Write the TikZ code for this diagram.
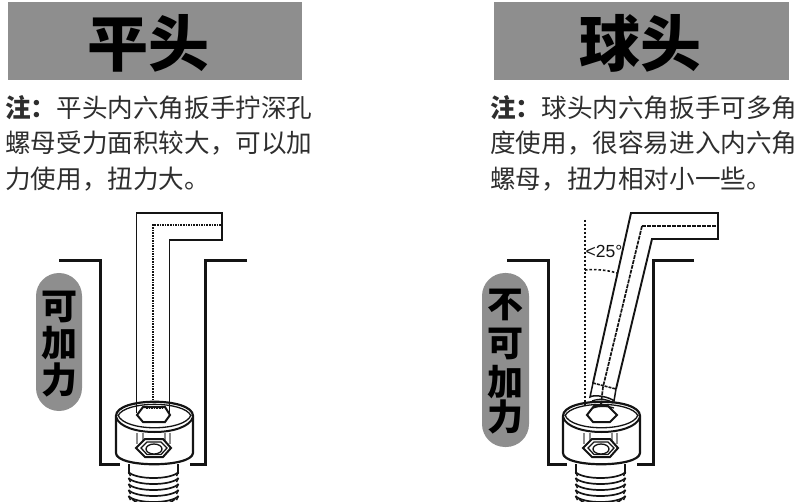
\documentclass[tikz,border=0pt]{standalone}
\usepackage{fontspec}
\newfontfamily\cjk{Noto Sans CJK SC}
\setmainfont{Liberation Sans}
\definecolor{ink}{HTML}{141414}
\definecolor{notecol}{HTML}{2E2E2E}
\definecolor{band}{HTML}{8E8E8E}
\tikzset{
  banner/.style={fill=band,draw=none},
  title/.style={font=\cjk\bfseries\fontsize{61}{61}\selectfont,text=black,inner sep=0pt},
  note/.style={font=\cjk\fontsize{25.6}{25.6}\selectfont,text=notecol,anchor=west,inner sep=0pt},
  pilltext/.style={font=\cjk\bfseries\fontsize{36}{36}\selectfont,text=black,inner sep=0pt},
  wall/.style={draw=ink,line width=3pt},
  wrench/.style={draw=ink,line width=1.9pt},
  centre/.style={draw=ink,line width=2pt,dash pattern=on 1.6pt off 1pt},
  thin/.style={draw=ink,line width=1.3pt},
  faint/.style={draw=black!45,line width=1.2pt},
  bolt/.pic={
    % threads
    \draw[thin,line width=1.8pt] (-25,48) -- (-25,58) (24,48) -- (24,58);
    \foreach \yy in {56,62,68,74,80}{
      \draw[thin,line width=1.7pt] (-25.5,\yy) .. controls (-18,\yy+8) and (17,\yy+8) .. (24.5,\yy);
      \draw[thin,line width=1.5pt] (-25.5,\yy) -- (-23.5,\yy+4) (24.5,\yy) -- (22.5,\yy+4);
    }
    \draw[thin,line width=1.7pt] (-22,83) .. controls (-14,92) and (13,92) .. (21,83);
    % head body
    \filldraw[fill=white,draw=ink,line width=2.2pt] (-38,0) -- (-38,37)
      .. controls (-38,52) and (38,52) .. (39,37) -- (39,0)
      .. controls (39,-19) and (-38,-19) .. (-38,0) -- cycle;
    \draw[ink,line width=2pt] (-38,1) .. controls (-32,21) and (33,21) .. (39,1);
    \draw[thin] (-36,0) .. controls (-30,-15.5) and (31,-15.5) .. (37,0);
    \draw[thin] (-36,-1) .. controls (-30,16) and (31,16) .. (37,-1);
    % bore
    \draw[faint] (-17,17) -- (-17,28) (16,17) -- (16,28) (-11,17) -- (-11,26) (11,17) -- (11,26);
    % lower hexagon
    \filldraw[fill=white,draw=ink,line width=2pt] (-18,32) -- (-9,23) -- (9,23) -- (17,32) -- (9,41) -- (-9,41) -- cycle;
    \draw[thin] (-13,32) -- (-7,26) -- (7,26) -- (13,32) -- (7,38.5) -- (-7,38.5) -- cycle;
    \filldraw[fill=white,draw=ink,line width=1.3pt] (0,33) ellipse [x radius=8,y radius=5];
  },
}
\begin{document}
\begin{tikzpicture}[x=1pt,y=-1pt]
\useasboundingbox (0,0) rectangle (800,502);
% banners
\path[banner] (8,2) rectangle (302,80);
\path[banner] (494,2) rectangle (789,80);
\node[title] (tl) at (148,43) {平头};
\node[title] (tr) at (640,43) {球头};
% notes
\node[note] (l1) at (5,108) {\textbf{注：}平头内六角扳手拧深孔};
\node[note] (l2) at (5,143) {螺母受力面积较大，可以加};
\node[note] (l3) at (5,179) {力使用，扭力大。};
\node[note] (r1) at (490,108) {\textbf{注：}球头内六角扳手可多角};
\node[note] (r2) at (490,143) {度使用，很容易进入内六角};
\node[note] (r3) at (490,179) {螺母，扭力相对小一些。};
% left pill
\path[banner,rounded corners=23pt] (36,273) rectangle (82,411);
\node[pilltext] (p1) at (59,307) {可};
\node[pilltext] (p2) at (59,343) {加};
\node[pilltext] (p3) at (59,380) {力};
% right pill
\path[banner,rounded corners=23pt] (482,273) rectangle (529,447);
\node[pilltext] (q1) at (505,305) {不};
\node[pilltext] (q2) at (505,344) {可};
\node[pilltext] (q3) at (505,382) {加};
\node[pilltext] (q4) at (505,417) {力};
% left housing
\path[wall] (59,261) -- (100,261) -- (100,464) -- (120,464);
\path[wall] (247,261) -- (205,261) -- (205,464) -- (190,464);
% right housing
\path[wall] (507,261) -- (548,261) -- (548,464) -- (567,464);
\path[wall] (694,261) -- (653,261) -- (653,464) -- (637,464);
% bolts
\pic at (154,416) {bolt};
\pic at (601,416) {bolt};
% left wrench
\path[wrench] (136.5,413) -- (136.5,213) -- (222,213) -- (222,240) -- (169.5,240) -- (169.5,413);
\path[centre] (153,403) -- (153,225) -- (221,225);
\filldraw[fill=white,draw=ink,line width=2pt] (137,415) -- (143,407) -- (165,407) -- (170,415) -- (165,422) -- (143,422) -- cycle;
\draw[centre,line width=1.1pt] (146,408.5) -- (162,408.5);
% right hex socket
\filldraw[fill=white,draw=ink,line width=2pt] (587,415) -- (594,406) -- (608,406) -- (617,415) -- (610,422) -- (593,422) -- cycle;
% right wrench
\path[wrench] (593,383) -- (631,213) -- (718,213) -- (718,239) -- (652,239) -- (616,389);
\path[thin,line width=1.6pt,dash pattern=on 3pt off 1pt] (593,383) -- (616,389);
\path[thin,line width=1.7pt,dash pattern=on 4pt off 1pt] (642,226) -- (718,226);
\path[thin,line width=1.7pt,dash pattern=on 4pt off 1pt] (642,226) -- (603,387) -- (601,404);
\path[thin,line width=1.5pt] (593,383) -- (590,397) .. controls (594,394) and (610,397) .. (614,401) -- (616,389);
\path[thin] (592,401) .. controls (600,398) and (608,399) .. (613,403) (593,408) .. controls (600,405) and (608,406) .. (614,408);
% angle
\path[centre,line width=2.1pt,dash pattern=on 2pt off 2pt] (585,220) -- (585,406);
\path[centre,line width=1.6pt,dash pattern=on 2.5pt off 2pt] (585,270) .. controls (596,269) and (607,270) .. (617,273);
\node[font=\fontsize{17.5}{17.5}\selectfont,text=ink,inner sep=0pt] (ang) at (604,251) {<25°};
\end{tikzpicture}
\end{document}
